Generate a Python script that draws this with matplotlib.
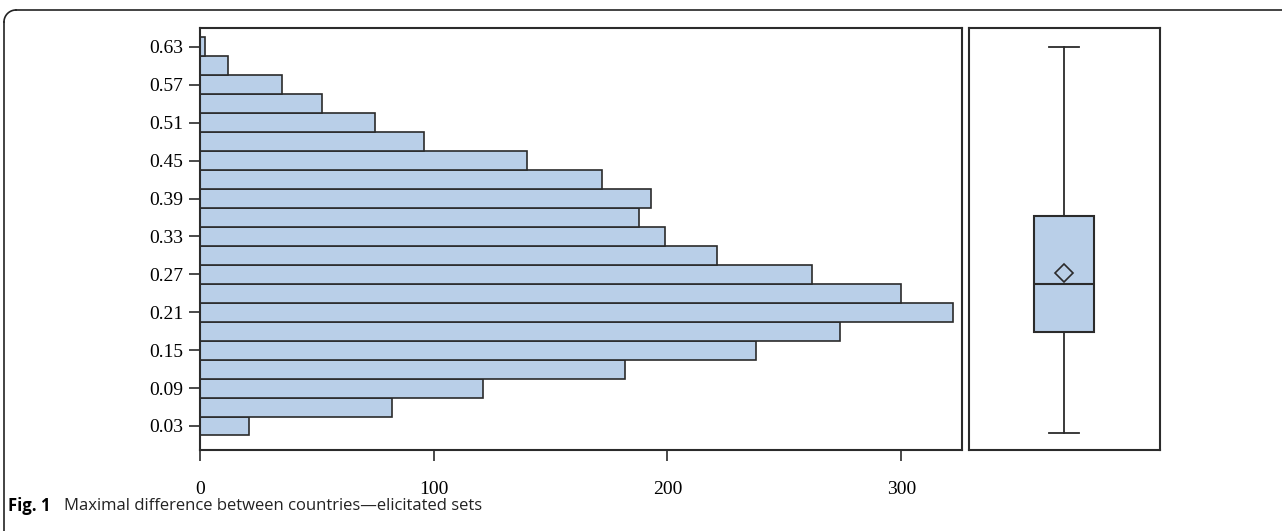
import matplotlib
matplotlib.use("Agg")
import matplotlib.pyplot as plt
from matplotlib.lines import Line2D
import numpy as np

# Data
bin_centers = [0.03, 0.06, 0.09, 0.12, 0.15, 0.18, 0.21, 0.24, 0.27, 0.30, 0.33,
               0.36, 0.39, 0.42, 0.45, 0.48, 0.51, 0.54, 0.57, 0.60, 0.63]
counts = [21, 82, 121, 182, 238, 274, 322, 300, 262, 221, 199,
          188, 193, 172, 140, 96, 75, 52, 35, 12, 2]
ytick_vals = [0.03, 0.09, 0.15, 0.21, 0.27, 0.33, 0.39, 0.45, 0.51, 0.57, 0.63]
xtick_vals = [0, 100, 200, 300]
box_stats = dict(whislo=0.019, q1=0.179, med=0.255, q3=0.363, whishi=0.63, mean=0.272)

bar_color = "#b9cfe8"
edge = "#2b2b2b"
serif = "Liberation Serif"

fig = plt.figure(figsize=(12.82, 5.31), dpi=100)

ax = fig.add_axes([200/1282, 1-450/531, 762/1282, 422/531])
ax.barh(bin_centers, counts, height=0.03, color=bar_color, edgecolor=edge, linewidth=1.2)
ax.set_xlim(0, 326)
ax.set_ylim(-0.008, 0.66)
ax.set_yticks(ytick_vals)
ax.set_yticklabels([f"{v:.2f}" for v in ytick_vals], family=serif, fontsize=14)
ax.set_xticks(xtick_vals)
ax.set_xticklabels([str(v) for v in xtick_vals], family=serif, fontsize=14)
ax.tick_params(axis="y", length=8, width=1.2, color=edge, pad=4)
ax.tick_params(axis="x", length=8, width=1.2, color=edge, pad=14)
for s in ax.spines.values():
    s.set_color(edge)
    s.set_linewidth(1.5)

bx = fig.add_axes([969/1282, 1-450/531, 191/1282, 422/531])
bx.set_ylim(-0.008, 0.66)
bx.set_xlim(0, 1)
st = dict(box_stats)
st["fliers"] = []
bx.bxp([st], positions=[0.497], widths=0.31, showmeans=True, patch_artist=True,
       boxprops=dict(facecolor=bar_color, edgecolor=edge, linewidth=1.5),
       medianprops=dict(color=edge, linewidth=1.5),
       whiskerprops=dict(color=edge, linewidth=1.3),
       capprops=dict(color=edge, linewidth=1.3),
       capwidths=0.157,
       meanprops=dict(marker="D", markerfacecolor="none", markeredgecolor=edge,
                      markersize=9, markeredgewidth=1.2))
bx.set_xticks([])
bx.set_yticks([])
for s in bx.spines.values():
    s.set_color(edge)
    s.set_linewidth(1.5)

# outer frame (top and left, rounded corner)
fw, fh = 1282, 531
frame_kw = dict(color="#222222", linewidth=1.2, transform=fig.transFigure)
fig.add_artist(Line2D([4/fw, 4/fw], [0, 1-22/fh], **frame_kw))
fig.add_artist(Line2D([16/fw, 1], [1-10/fh, 1-10/fh], **frame_kw))
t = np.linspace(np.pi/2, np.pi, 20)
cx, cy, r = 16, 22, 12
fig.add_artist(Line2D((cx + r*np.cos(t))/fw, 1-(cy - r*np.sin(t))/fh, **frame_kw))

# caption
fig.text(8/fw, 1-506/fh, "Fig. 1", fontsize=12, fontweight="bold", family="Open Sans",
         va="center", ha="left")
fig.text(64/fw, 1-506/fh, "Maximal difference between countries\u2014elicitated sets",
         fontsize=12, family="Open Sans", va="center", ha="left", color="#222222")

fig.savefig("out.png", dpi=100)
